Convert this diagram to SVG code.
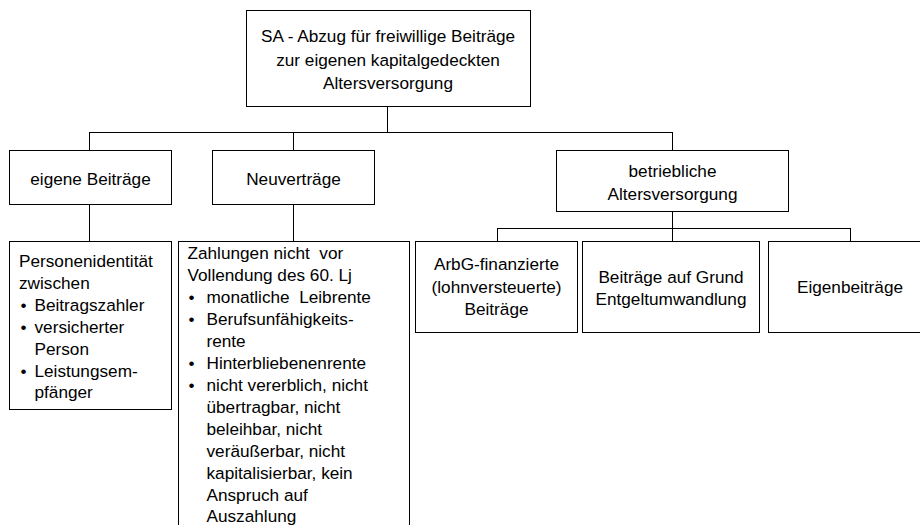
<svg xmlns="http://www.w3.org/2000/svg" width="920" height="525" viewBox="0 0 920 525">
<style>
.box{fill:#fff;stroke:#000;stroke-width:1}
.conn{fill:none;stroke:#000;stroke-width:1}
text{font-family:"Liberation Sans",Arial,sans-serif;font-size:17.2px;fill:#000}
.c{text-anchor:middle}
</style>
<rect width="920" height="525" fill="#fff"/>
<g id="connectors">
<path class="conn" d="M387.5 107 V132.5 M89.5 132.5 H672.5 M89.5 132 V150 M293.5 132 V150 M672.5 132 V150"/>
<path class="conn" d="M89.5 205 V241 M293.5 205 V241"/>
<path class="conn" d="M672.5 212 V241 M497.5 228.5 H850.5 M497.5 228 V241 M850.5 228 V241"/>
</g>
<g id="root">
<rect class="box" x="246.5" y="10.5" width="284" height="96"/>
<text class="c" x="388" y="42">SA - Abzug für freiwillige Beiträge</text>
<text class="c" x="388" y="65.5">zur eigenen kapitalgedeckten</text>
<text class="c" x="388" y="89">Altersversorgung</text>
</g>
<g id="eigene">
<rect class="box" x="9.5" y="150.5" width="162" height="54"/>
<text class="c" x="90.5" y="185">eigene Beiträge</text>
</g>
<g id="neuvertraege">
<rect class="box" x="212.5" y="150.5" width="162" height="54"/>
<text class="c" x="293.5" y="185">Neuverträge</text>
</g>
<g id="betrieblich">
<rect class="box" x="556.5" y="150.5" width="232" height="61"/>
<text class="c" x="672.5" y="177">betriebliche</text>
<text class="c" x="672.5" y="200">Altersversorgung</text>
</g>
<g id="personen">
<rect class="box" x="9.5" y="241.5" width="162" height="168"/>
<text x="19" y="266.5">Personenidentität</text>
<text x="19" y="288.5">zwischen</text>
<text x="20.5" y="310.5">•</text><text x="34.5" y="310.5">Beitragszahler</text>
<text x="20.5" y="332.5">•</text><text x="34.5" y="332.5">versicherter</text>
<text x="34.5" y="354.5">Person</text>
<text x="20.5" y="376.5">•</text><text x="34.5" y="376.5">Leistungsem-</text>
<text x="34.5" y="398">pfänger</text>
</g>
<g id="zahlungen">
<rect class="box" x="178.5" y="241.5" width="231" height="300"/>
<text x="187.5" y="258.5" xml:space="preserve">Zahlungen nicht  vor</text>
<text x="187.5" y="280.5">Vollendung des 60. Lj</text>
<text x="188.5" y="302.5">•</text><text x="206.5" y="302.5" xml:space="preserve">monatliche  Leibrente</text>
<text x="188.5" y="324.5">•</text><text x="206.5" y="324.5">Berufsunfähigkeits-</text>
<text x="206.5" y="346.5">rente</text>
<text x="188.5" y="368.5">•</text><text x="206.5" y="368.5">Hinterbliebenenrente</text>
<text x="188.5" y="390.5">•</text><text x="206.5" y="390.5">nicht vererblich, nicht</text>
<text x="206.5" y="412.5">übertragbar, nicht</text>
<text x="206.5" y="434.5">beleihbar, nicht</text>
<text x="206.5" y="456.5">veräußerbar, nicht</text>
<text x="206.5" y="478.5">kapitalisierbar, kein</text>
<text x="206.5" y="500.5">Anspruch auf</text>
<text x="206.5" y="522">Auszahlung</text>
</g>
<g id="arbg">
<rect class="box" x="415.5" y="241.5" width="162" height="91"/>
<text class="c" x="496.5" y="270">ArbG-finanzierte</text>
<text class="c" x="496.5" y="292.5">(lohnversteuerte)</text>
<text class="c" x="496.5" y="315">Beiträge</text>
</g>
<g id="entgelt">
<rect class="box" x="582.5" y="241.5" width="177" height="91"/>
<text class="c" x="671" y="283">Beiträge auf Grund</text>
<text class="c" x="671" y="304.5">Entgeltumwandlung</text>
</g>
<g id="eigenbeitraege">
<rect class="box" x="768.5" y="241.5" width="165" height="91"/>
<text class="c" x="850" y="293">Eigenbeiträge</text>
</g>
</svg>
